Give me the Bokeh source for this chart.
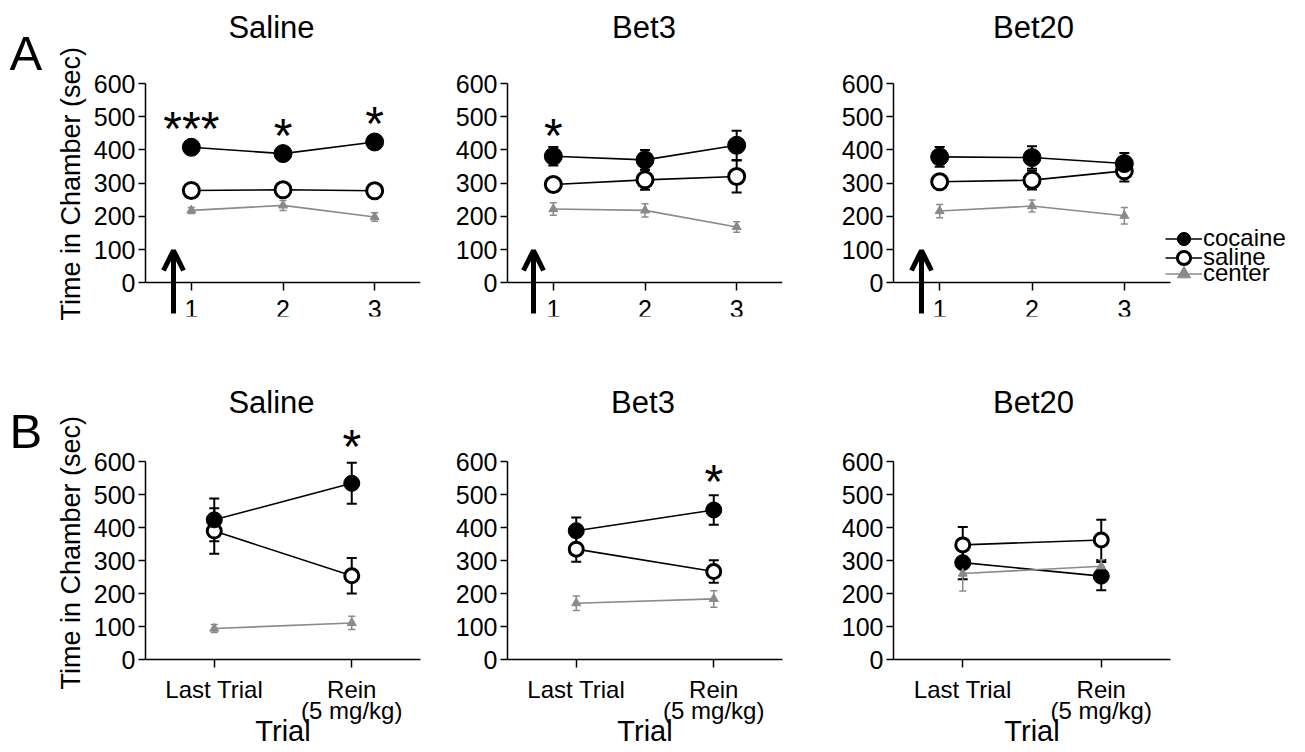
from bokeh.plotting import figure
from bokeh.layouts import row, column
from bokeh.models import (Range1d, FixedTicker, Whisker, ColumnDataSource, TeeHead,
                          Arrow, OpenHead, Label, Legend, LegendItem, Title)
from bokeh.core.properties import value
from bokeh.embed import file_html
from bokeh.resources import INLINE

FONT = "Liberation Sans"
GRAY = "#8a8a8a"

# ---------------- data ----------------
groups = ["Saline", "Bet3", "Bet20"]
panel_letters = ["A", "B"]
y_title = "Time in Chamber (sec)"
x_title_b = "Trial"
trials_a = [1, 2, 3]
trial_a_labels = ["1", "2", "3"]
trials_b = [1, 2]
trial_b_labels = ["Last Trial", "Rein\n(5 mg/kg)"]
y_ticks = [0, 100, 200, 300, 400, 500, 600]
series_names = ["cocaine", "saline", "center"]

# Panel A: mean time in chamber (sec) and SEM, one row per group (Saline, Bet3, Bet20)
a_cocaine = [[408, 389, 424], [381, 370, 414], [379, 377, 359]]
a_cocaine_sem = [[10, 16, 10], [28, 30, 44], [30, 34, 32]]
a_saline = [[278, 280, 277], [296, 310, 320], [304, 309, 337]]
a_saline_sem = [[8, 8, 8], [12, 30, 48], [10, 28, 32]]
a_center = [[218, 233, 198], [222, 218, 168], [216, 231, 202]]
a_center_sem = [[9, 15, 13], [19, 20, 16], [20, 18, 25]]

# Panel B: Last Trial vs reinstatement
b_cocaine = [[424, 535], [391, 454], [294, 253]]
b_cocaine_sem = [[65, 62], [40, 45], [50, 43]]
b_saline = [[390, 254], [335, 267], [348, 363]]
b_saline_sem = [[69, 54], [38, 34], [54, 61]]
b_center = [[94, 111], [171, 184], [261, 283]]
b_center_sem = [[12, 20], [22, 25], [53, 20]]

# significance marks: (group index, trial, text, y of mark centre)
a_sig = [(0, 1, "***", 484), (0, 2, "*", 465), (0, 3, "*", 499), (1, 1, "*", 465)]
b_sig = [(0, 2, "*", 666), (1, 2, "*", 560)]

# ---------------- page geometry (pixels) ----------------
LETTER_W = 46
COL_W = [394, 395, 465]
COL_BL = [99, 67, 58]
COL_BR = [[20, 53, 2], [20, 53, 130]]
FRAME_L = [145, 507, 893]
AXIS_R = [420, 782, 1170]
ROW_TOP = [0, 366]
ROW_H = [366, 384]
ROW_BB = [50, 90]
Y600 = [83.0, 461.7]
Y0 = [282.3, 660.0]
TITLE_X = [[271, 643.5, 1033], [271, 642.5, 1033]]
TITLE_Y = [26.5, 402]
LETTER_POS = [(9, 61), (9, 450)]
YLABEL_OFFSET = [-4, -30]
ARROW_PX = [173, 533, 921]
ARROW_PY = (313, 250)
LEGEND_PY = [238, 257, 273]
LEGEND_PX = 1165
STAR_FS = 48
STAR_K = 0.14


class Geo:
    def __init__(self, r, c):
        n = 3 if r == 0 else 2
        self.fl = FRAME_L[c]
        self.fr = FRAME_L[c] - COL_BL[c] + COL_W[c] - COL_BR[r][c]
        self.ppx = (AXIS_R[c] - FRAME_L[c]) / n
        self.ft = ROW_TOP[r]
        self.fb = ROW_TOP[r] + ROW_H[r] - ROW_BB[r]
        self.ppy = (Y0[r] - Y600[r]) / 600.0
        self.y0 = Y0[r]
        self.xr = (0.5, 0.5 + (self.fr - self.fl) / self.ppx)
        self.yr = (-(self.fb - Y0[r]) / self.ppy, 600 + (Y600[r] - self.ft) / self.ppy)

    def x(self, px):
        return 0.5 + (px - self.fl) / self.ppx

    def y(self, py):
        return (self.y0 - py) / self.ppy


def style_axes(p, r):
    for ax in (p.xaxis[0], p.yaxis[0]):
        ax.axis_line_width = 1.5
        ax.axis_line_color = "black"
        ax.major_tick_line_width = 1.5
        ax.major_tick_line_color = "black"
        ax.major_tick_in = 0
        ax.minor_tick_line_color = None
        ax.major_label_text_font = FONT
        ax.major_label_text_color = "black"
        ax.axis_label_text_font = FONT
        ax.axis_label_text_font_style = "normal"
        ax.axis_label_text_color = "black"
    p.yaxis.ticker = FixedTicker(ticks=y_ticks)
    p.yaxis.bounds = (0, 600)
    p.yaxis.major_tick_out = 7
    p.yaxis.major_label_text_font_size = "25px"
    p.yaxis.major_label_standoff = 3
    p.xaxis.major_tick_out = 8
    if r == 0:
        p.xaxis.fixed_location = 0


def draw_series(p, x, y, e, kind, big):
    src = ColumnDataSource(dict(x=x, y=y, lo=[a - b for a, b in zip(y, e)],
                                hi=[a + b for a, b in zip(y, e)]))
    if kind == "center":
        col, lw_err, head = GRAY, 1.5, 7
    else:
        col, lw_err, head = "black", 2, 10
    w = Whisker(base="x", upper="hi", lower="lo", source=src, line_color=col, line_width=lw_err,
                upper_head=TeeHead(size=head, line_color=col, line_width=lw_err),
                lower_head=TeeHead(size=head, line_color=col, line_width=lw_err))
    p.add_layout(w)
    ln = p.line("x", "y", source=src, line_color=col, line_width=1.6)
    if kind == "cocaine":
        sc = p.scatter("x", "y", source=src, marker="circle", size=18 if big else 16,
                       fill_color="black", line_color="black", line_width=1)
    elif kind == "saline":
        sc = p.scatter("x", "y", source=src, marker="circle", size=16 if big else 14,
                       fill_color="white", line_color="black", line_width=3)
    else:
        sc = p.scatter("x", "y", source=src, marker="triangle", size=9,
                       fill_color=GRAY, line_color=GRAY, line_width=1)
    return ln, sc


def make_fig(r, c):
    g = Geo(r, c)
    p = figure(width=COL_W[c], height=ROW_H[r], x_range=Range1d(*g.xr), y_range=Range1d(*g.yr),
               output_backend="svg", toolbar_location=None,
               min_border_left=COL_BL[c], min_border_right=COL_BR[r][c],
               min_border_top=0, min_border_bottom=ROW_BB[r])
    p.outline_line_color = None
    p.grid.visible = False
    p.background_fill_color = "white"
    p.border_fill_color = "white"
    style_axes(p, r)
    p.xaxis.bounds = (0.5, 3.5) if r == 0 else (0.5, 2.5)
    # panel title
    p.add_layout(Label(x=g.x(TITLE_X[r][c]), y=g.y(TITLE_Y[r]), text=groups[c],
                       text_align="center", text_baseline="alphabetic", text_font=FONT,
                       text_font_size="31px", text_color="black"))
    if c == 0:
        p.add_layout(Title(text=y_title, align="left", offset=YLABEL_OFFSET[r],
                           text_font=FONT, text_font_size="27px", text_font_style="normal",
                           text_color="black"), "left")
    return p, g


def add_stars(p, g, sigs, c):
    for gi, t, txt, yc in sigs:
        if gi == c:
            yb = yc - STAR_K * STAR_FS / g.ppy
            p.add_layout(Label(x=t, y=yb, text=txt, text_align="center",
                               text_baseline="alphabetic", text_font=FONT,
                               text_font_size=f"{STAR_FS}px", text_color="black"))


def letter_fig(r):
    top = ROW_TOP[r]
    p = figure(width=LETTER_W, height=ROW_H[r], x_range=Range1d(0, LETTER_W),
               y_range=Range1d(top + ROW_H[r], top), output_backend="svg",
               toolbar_location=None, x_axis_type=None, y_axis_type=None,
               min_border_left=0, min_border_right=0, min_border_top=0, min_border_bottom=0)
    p.outline_line_color = None
    p.grid.visible = False
    lx, ly = LETTER_POS[r]
    p.text(x=[lx], y=[ly], text=[panel_letters[r]], text_align="left",
           text_baseline="alphabetic", text_font=value(FONT), text_font_size="49px",
           text_color="black")
    return p


# ---------- row A ----------
row_a = [letter_fig(0)]
for c in range(3):
    p, g = make_fig(0, c)
    p.xaxis.ticker = FixedTicker(ticks=trials_a)
    p.xaxis.major_label_overrides = {t: l for t, l in zip(trials_a, trial_a_labels)}
    p.xaxis.major_label_text_font_size = "25px"
    p.xaxis.major_label_standoff = 9
    ls, ss = draw_series(p, trials_a, a_saline[c], a_saline_sem[c], "saline", True)
    lc, sc = draw_series(p, trials_a, a_cocaine[c], a_cocaine_sem[c], "cocaine", True)
    lx, sx = draw_series(p, trials_a, a_center[c], a_center_sem[c], "center", True)
    # arrow marking the drug injection
    p.add_layout(Arrow(x_start=g.x(ARROW_PX[c]), y_start=g.y(ARROW_PY[0]),
                       x_end=g.x(ARROW_PX[c]), y_end=g.y(ARROW_PY[1]), line_width=5,
                       line_color="black",
                       end=OpenHead(size=20, line_width=5, line_color="black")))
    add_stars(p, g, a_sig, c)
    if c == 2:
        rends = [[lc, sc], [ls, ss], [lx, sx]]
        for name, rr, py in zip(series_names, rends, LEGEND_PY):
            lg = Legend(items=[LegendItem(label=name, renderers=rr)],
                        location=(LEGEND_PX - g.fl, g.fb - (py + 16.5)),
                        orientation="vertical", glyph_width=37, glyph_height=33,
                        label_height=33, padding=0, margin=0, spacing=0,
                        label_standoff=1, label_text_font=FONT, label_text_font_size="24px",
                        label_text_color="black", border_line_color=None,
                        background_fill_alpha=0)
            p.add_layout(lg)
    row_a.append(p)

# ---------- row B ----------
row_b = [letter_fig(1)]
for c in range(3):
    p, g = make_fig(1, c)
    p.xaxis.ticker = FixedTicker(ticks=trials_b)
    p.xaxis.major_label_overrides = {t: l for t, l in zip(trials_b, trial_b_labels)}
    p.xaxis.major_label_text_font_size = "24px"
    p.xaxis.major_label_standoff = 8
    p.xaxis.major_label_text_line_height = 0.8
    p.xaxis.axis_label = x_title_b
    p.xaxis.axis_label_text_font_size = "29px"
    p.xaxis.axis_label_standoff = -12
    draw_series(p, trials_b, b_saline[c], b_saline_sem[c], "saline", False)
    draw_series(p, trials_b, b_cocaine[c], b_cocaine_sem[c], "cocaine", False)
    draw_series(p, trials_b, b_center[c], b_center_sem[c], "center", False)
    add_stars(p, g, b_sig, c)
    row_b.append(p)

layout = column(row(*row_a, spacing=0), row(*row_b, spacing=0), spacing=0)
open("out.html", "w").write(file_html(layout, INLINE))
